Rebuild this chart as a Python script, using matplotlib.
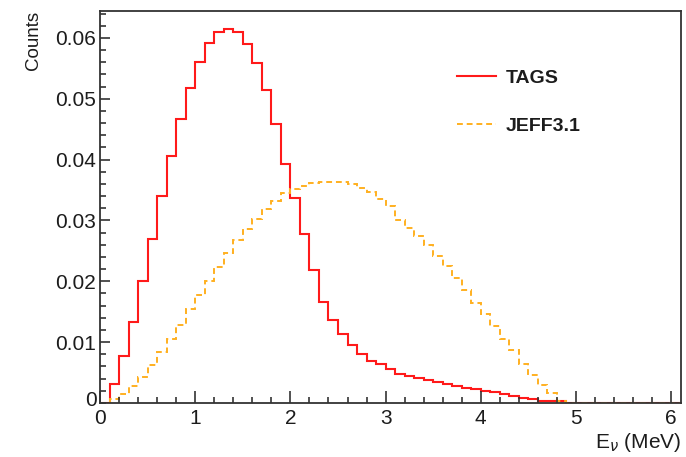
import numpy as np
import matplotlib
matplotlib.use("Agg")
import matplotlib.pyplot as plt
from matplotlib.lines import Line2D

plt.rcParams['font.family'] = ['Liberation Sans', 'DejaVu Sans']

# bin edges: 0.1 MeV bins from 0 to 6.1 MeV
bin_width = 0.1
n_bins = 61

# TAGS spectrum, one value per 0.1 MeV bin
tags = [0.0, 0.0031, 0.0077, 0.0133, 0.0200, 0.0270, 0.0340, 0.0406, 0.0466, 0.0517,
        0.0560, 0.0591, 0.0609, 0.0614, 0.0610, 0.0590, 0.0558, 0.0515, 0.0458, 0.0393,
        0.0337, 0.0278, 0.0219, 0.0166, 0.0136, 0.0114, 0.0096, 0.0080, 0.0069, 0.0064,
        0.0056, 0.0048, 0.0044, 0.0041, 0.0038, 0.0034, 0.0031, 0.0028, 0.0025, 0.0023,
        0.0020, 0.0018, 0.0015, 0.0012, 0.0009, 0.0007, 0.0004, 0.0003, 0.0003, 0.0,
        0.0, 0.0, 0.0, 0.0, 0.0, 0.0, 0.0, 0.0, 0.0, 0.0, 0.0]

# JEFF3.1 spectrum
jeff = [0.0, 0.0006, 0.0015, 0.0028, 0.0043, 0.0062, 0.0084, 0.0105, 0.0128, 0.0154,
        0.0177, 0.0200, 0.0223, 0.0247, 0.0268, 0.0286, 0.0303, 0.0319, 0.0332, 0.0345,
        0.0352, 0.0357, 0.0361, 0.0363, 0.0363, 0.0363, 0.0360, 0.0354, 0.0346, 0.0335,
        0.0323, 0.0301, 0.0288, 0.0275, 0.0260, 0.0241, 0.0225, 0.0206, 0.0186, 0.0164,
        0.0147, 0.0126, 0.0105, 0.0087, 0.0064, 0.0046, 0.0029, 0.0016, 0.0004, 0.0,
        0.0, 0.0, 0.0, 0.0, 0.0, 0.0, 0.0, 0.0, 0.0, 0.0, 0.0]

edges = np.arange(n_bins + 1) * bin_width

red = '#ff1a1a'
orange = '#ffb020'
ink = '#1c1c1c'

fig = plt.figure(figsize=(6.86, 4.57), dpi=100)
ax = fig.add_axes([0.1458, 0.1182, 0.8465, 0.8588])

ax.stairs(tags, edges, color=red, lw=1.5, baseline=None)
ax.stairs(jeff, edges, color=orange, lw=1.4, ls=(0, (3, 2)), baseline=None)

ax.set_xlim(0, 6.1)
ax.set_ylim(0, 0.0645)

# ROOT style axes
ax.set_xticks(np.arange(0, 7, 1))
ax.set_xticks(np.arange(0, 6.11, 0.2), minor=True)
ax.set_yticks([0.01, 0.02, 0.03, 0.04, 0.05, 0.06])
ax.set_yticks(np.arange(0, 0.0645, 0.002), minor=True)
ax.set_yticklabels(['0.01', '0.02', '0.03', '0.04', '0.05', '0.06'])
ax.set_xticklabels(['0', '1', '2', '3', '4', '5', '6'])
ax.tick_params(which='both', direction='in', top=False, right=False, colors='#333333',
               labelcolor=ink, labelsize=15, width=1.2)
ax.tick_params(axis='x', which='major', length=9, pad=4)
ax.tick_params(axis='x', which='minor', length=4.5)
ax.tick_params(axis='y', which='major', length=7.5, pad=3)
ax.tick_params(axis='y', which='minor', length=4.5)
for s in ax.spines.values():
    s.set_color('#333333')
    s.set_linewidth(1.3)

# overlapping zeros at the origin
ax.text(-0.03, 0.0004, '0', transform=ax.transData, ha='right', va='center', fontsize=15, color=ink)

ax.text(-0.115, 1.0, 'Counts', transform=ax.transAxes, rotation=90, ha='center', va='top',
        fontsize=13.5, color=ink)
ax.text(1.0, -0.10, r'E$_{\nu}$ (MeV)', transform=ax.transAxes, ha='right', va='center',
        fontsize=15, color=ink)

handles = [Line2D([], [], color=red, lw=1.5),
           Line2D([], [], color=orange, lw=1.4, ls=(0, (3, 2)))]
leg = ax.legend(handles, ['TAGS', 'JEFF3.1'], loc='upper left', bbox_to_anchor=(0.585, 0.895),
                frameon=False, handlelength=2.0, handletextpad=0.5, labelspacing=1.55,
                prop={'weight': 'bold', 'size': 14})
for t in leg.get_texts():
    t.set_color(ink)

fig.savefig('out.png', dpi=100)
